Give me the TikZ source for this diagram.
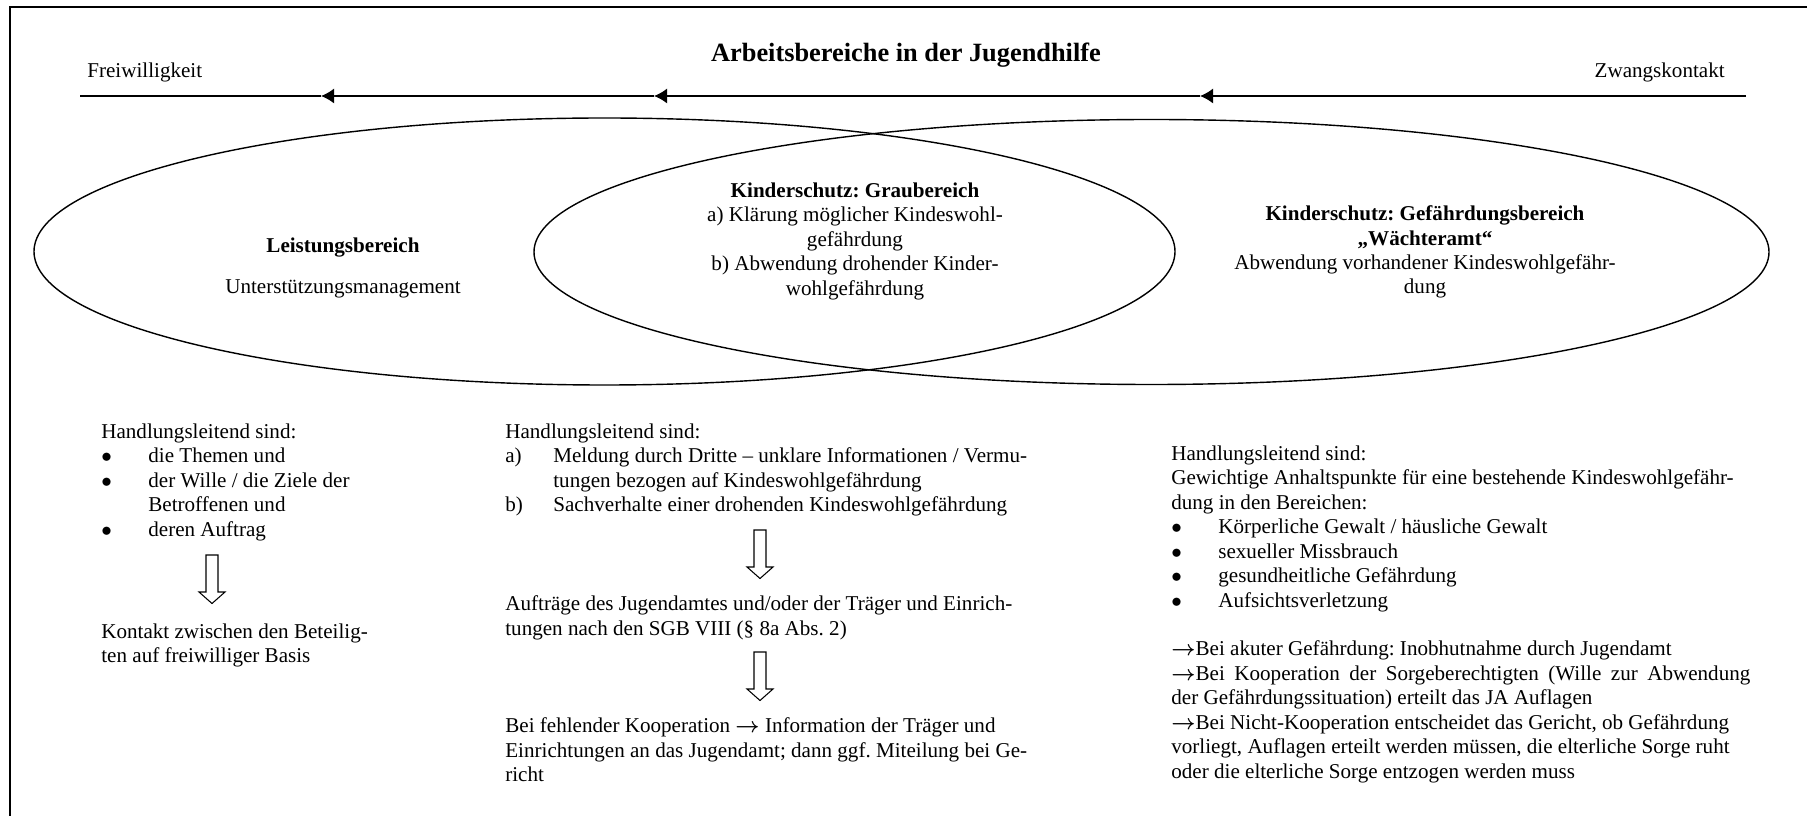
\documentclass[tikz,border=0pt]{standalone}
\usepackage{fontspec}
\setmainfont{Liberation Serif}
\usetikzlibrary{arrows.meta,shapes.geometric}
\frenchspacing
\tikzstyle{txt}=[inner sep=0pt, font=\fontsize{12}{13.9}\selectfont]
\tikzstyle{spalte}=[txt, anchor=north west, align=left]
\tikzstyle{mitte}=[txt, anchor=north, align=center]
\tikzstyle{bereich}=[ellipse, draw, line width=0.8pt, inner sep=0pt]
\tikzstyle{zeitpfeil}=[line width=0.9pt, -{Latex[length=2.6mm,width=3mm]}]
\tikzset{hohlpfeil/.pic={
    \draw[line width=0.6pt] (-0.12,0) -- (-0.12,-0.74) -- (-0.26,-0.74) -- (0,-0.97)
      -- (0.26,-0.74) -- (0.12,-0.74) -- (0.12,0) -- cycle;}}
\newcommand{\aufz}{\makebox[0.94cm][l]{$\bullet$}}
\newcommand{\einr}[1]{\hspace*{#1}}
\newcommand{\pfeil}{{\boldmath$\rightarrow$}}

\begin{document}
\begin{tikzpicture}
  \useasboundingbox (0,0) rectangle (36.14,-16.32);
  %% Rahmen
  \draw[line width=1.1pt] (0.2,-16.32) -- (0.2,-0.14) -- (36.14,-0.14);

  %% Kopf
  \node[txt, anchor=base, font=\fontsize{15}{17}\selectfont\bfseries] (titel) at (18.12,-1.24) {Arbeitsbereiche in der Jugendhilfe};
  \node[txt, anchor=base west] (freiw) at (1.74,-1.56) {Freiwilligkeit};
  \node[txt, anchor=base east] (zwang) at (34.5,-1.56) {Zwangskontakt};

  \coordinate (rechts) at (34.92,-1.92);
  \coordinate (p3) at (24.0,-1.92);
  \coordinate (p2) at (13.08,-1.92);
  \coordinate (p1) at (6.42,-1.92);
  \coordinate (links) at (1.6,-1.92);
  \draw[zeitpfeil] (rechts) -- (p3);
  \draw[zeitpfeil] (p3) -- (p2);
  \draw[zeitpfeil] (p2) -- (p1);
  \draw[line width=0.9pt] (p1) -- (links);

  %% Bereiche
  \node[bereich, minimum width=22.82cm, minimum height=5.34cm] (leistung) at (12.09,-5.03) {};
  \node[bereich, minimum width=24.7cm, minimum height=5.3cm] (gefahr) at (23.03,-5.04) {};

  \node[mitte] (leistungtext) at (6.86,-4.75) {\textbf{Leistungsbereich}\\[0.33cm] Unterstützungsmanagement};
  \node[mitte] (grautext) at (17.1,-3.65) {\textbf{Kinderschutz: Graubereich}\\
    a) Klärung möglicher Kindeswohl-\\ gefährdung\\
    b) Abwendung drohender Kinder-\\ wohlgefährdung};
  \node[mitte] (gefahrtext) at (28.5,-4.11) {\textbf{Kinderschutz: Gefährdungsbereich}\\
    \textbf{„Wächteramt“}\\
    Abwendung vorhandener Kindeswohlgefähr-\\ dung};

  %% Spalte links
  \node[spalte] (handl1) at (2.02,-8.47) {Handlungsleitend sind:\\
    \aufz die Themen und\\
    \aufz der Wille / die Ziele der\\
    \einr{0.94cm}Betroffenen und\\
    \aufz deren Auftrag};
  \pic at (4.24,-11.1) {hohlpfeil};
  \node[spalte] (kontakt) at (2.02,-12.47) {Kontakt zwischen den Beteilig-\\ ten auf freiwilliger Basis};

  %% Spalte Mitte
  \node[spalte] (handl2) at (10.1,-8.47) {Handlungsleitend sind:\\
    \makebox[0.96cm][l]{a)}Meldung durch Dritte – unklare Informationen / Vermu-\\
    \einr{0.96cm}tungen bezogen auf Kindeswohlgefährdung\\
    \makebox[0.96cm][l]{b)}Sachverhalte einer drohenden Kindeswohlgefährdung};
  \pic at (15.2,-10.6) {hohlpfeil};
  \node[spalte] (auftraege) at (10.1,-11.91) {Aufträge des Jugendamtes und/oder der Träger und Einrich-\\
    tungen nach den SGB VIII (§ 8a Abs. 2)};
  \pic at (15.2,-13.04) {hohlpfeil};
  \node[spalte] (kooperation) at (10.1,-14.35) {Bei fehlender Kooperation \pfeil{} Information der Träger und\\
    Einrichtungen an das Jugendamt; dann ggf. Miteilung bei Ge-\\ richt};

  %% Spalte rechts
  \node[spalte] (handl3) at (23.42,-8.91) {Handlungsleitend sind:\\
    Gewichtige Anhaltspunkte für eine bestehende Kindeswohlgefähr-\\
    dung in den Bereichen:\\
    \aufz Körperliche Gewalt / häusliche Gewalt\\
    \aufz sexueller Missbrauch\\
    \aufz gesundheitliche Gefährdung\\
    \aufz Aufsichtsverletzung\\[13.9pt]
    \pfeil Bei akuter Gefährdung: Inobhutnahme durch Jugendamt\\
    \makebox[11.58cm][s]{\pfeil Bei Kooperation der Sorgeberechtigten (Wille zur Abwendung}\\
    der Gefährdungssituation) erteilt das JA Auflagen\\
    \pfeil Bei Nicht-Kooperation entscheidet das Gericht, ob Gefährdung\\
    vorliegt, Auflagen erteilt werden müssen, die elterliche Sorge ruht\\
    oder die elterliche Sorge entzogen werden muss};
\end{tikzpicture}
\end{document}
